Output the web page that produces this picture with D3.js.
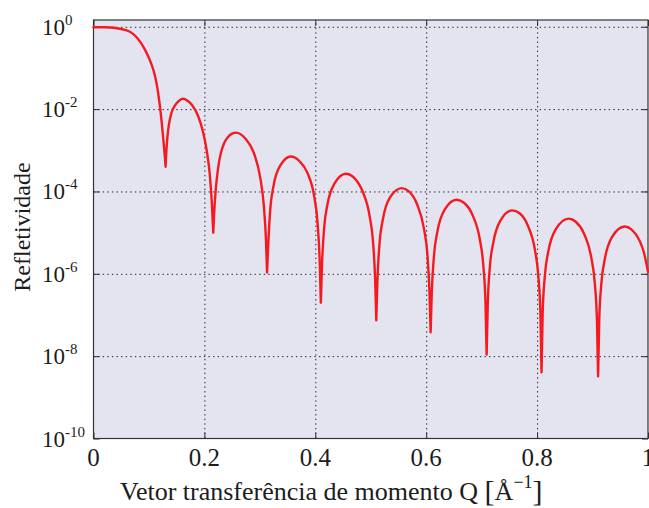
<!DOCTYPE html>
<html>
<head>
<meta charset="utf-8">
<script src="https://cdn.jsdelivr.net/npm/d3@7"></script>
<style>
  body { margin: 0; background: #ffffff; }
  svg { display: block; }
  text { font-family: "Liberation Serif", "Times New Roman", serif; fill: #1c1c1c; }
</style>
</head>
<body>
<svg id="chart" width="649" height="508"></svg>
<script>
// Reflectivity curve: momentum transfer Q (1/Å) and log10 of reflectivity
const qValues = [
  0, 0.02, 0.04, 0.05, 0.06, 0.07, 0.08, 0.093, 0.100, 0.105, 0.108, 0.111, 0.114, 0.117, 0.120, 0.123, 0.1265, 0.1288, 0.130,
  0.1315, 0.1335, 0.136, 0.139, 0.1425, 0.147, 0.153, 0.161, 0.169, 0.177, 0.189, 0.198, 0.204, 0.210, 0.2135, 0.216,
  0.2175, 0.2205, 0.2245, 0.2295, 0.2355, 0.243, 0.250, 0.257, 0.2742, 0.2888, 0.3014, 0.3072, 0.3111, 0.313,
  0.3149, 0.3188, 0.3246, 0.3373, 0.356, 0.3712, 0.3858, 0.3984, 0.4042, 0.4081, 0.410,
  0.412, 0.416, 0.422, 0.435, 0.455, 0.470, 0.485, 0.498, 0.504, 0.508, 0.510,
  0.512, 0.5159, 0.5218, 0.5345, 0.556, 0.5688, 0.5835, 0.5962, 0.6021, 0.606, 0.608,
  0.610, 0.6141, 0.6201, 0.6333, 0.655, 0.6686, 0.6838, 0.6969, 0.7029, 0.707, 0.709,
  0.711, 0.7149, 0.7209, 0.7338, 0.755, 0.7684, 0.7833, 0.7961, 0.802, 0.806, 0.808,
  0.810, 0.8141, 0.8202, 0.8335, 0.857, 0.8692, 0.8845, 0.8978, 0.9039, 0.908, 0.910,
  0.912, 0.916, 0.922, 0.935, 0.958, 0.970, 0.985, 0.993, 1.000
];
const log10R = [
  -0.01, -0.012, -0.03, -0.055, -0.09, -0.16, -0.29, -0.56, -0.76, -0.93, -1.05, -1.20, -1.40, -1.65, -1.95, -2.32, -2.82, -3.18, -3.40,
  -3.00, -2.65, -2.38, -2.17, -2.02, -1.91, -1.81, -1.75, -1.79, -1.89, -2.18, -2.58, -2.99, -3.63, -4.30, -5.00,
  -4.55, -3.95, -3.45, -3.08, -2.83, -2.67, -2.595, -2.57, -2.72, -3.05, -3.72, -4.35, -5.20, -5.97,
  -5.36, -4.43, -3.87, -3.36, -3.15, -3.26, -3.55, -4.15, -4.78, -5.75, -6.70,
  -5.81, -4.88, -4.31, -3.80, -3.57, -3.67, -3.99, -4.60, -5.21, -6.17, -7.13,
  -6.18, -5.25, -4.68, -4.15, -3.92, -4.00, -4.31, -4.92, -5.52, -6.48, -7.42,
  -6.48, -5.55, -4.98, -4.44, -4.20, -4.28, -4.58, -5.18, -5.78, -6.74, -7.96,
  -6.76, -5.82, -5.25, -4.71, -4.46, -4.53, -4.83, -5.42, -6.02, -6.98, -8.39,
  -6.97, -6.03, -5.46, -4.92, -4.66, -4.73, -5.02, -5.61, -6.21, -7.16, -8.49,
  -7.16, -6.22, -5.65, -5.11, -4.85, -4.92, -5.20, -5.50, -5.95
];
// Q positions of the interference minima (Kiessig fringes)
const dipQ = [0.130, 0.216, 0.313, 0.410, 0.510, 0.608, 0.709, 0.808, 0.910];

const xTicks = [0, 0.2, 0.4, 0.6, 0.8, 1];
const xTickLabels = ["0", "0.2", "0.4", "0.6", "0.8", "1"];
const yTickExponents = [0, -2, -4, -6, -8, -10];
const xTitle = "Vetor transferência de momento Q";
const yTitle = "Refletividade";

const svg = d3.select("#chart");
const plot = { left: 93.5, right: 648, top: 20, bottom: 438.5 };

const x = d3.scaleLinear().domain([0, 1]).range([plot.left, plot.right]);
const y = d3.scaleLog().domain([1e-10, 1.46]).range([plot.bottom, plot.top]);

// plot background
svg.append("rect")
  .attr("x", plot.left).attr("y", plot.top)
  .attr("width", plot.right - plot.left).attr("height", plot.bottom - plot.top)
  .attr("fill", "#e4e4f1");

const yGridValues = yTickExponents.map(e => Math.pow(10, e));

// dotted grid
const gridX = svg.append("g")
  .attr("transform", `translate(0,${plot.bottom})`)
  .call(d3.axisBottom(x).tickValues(xTicks.slice(1, -1))
    .tickSize(-(plot.bottom - plot.top)).tickFormat(""));
const gridY = svg.append("g")
  .attr("transform", `translate(${plot.left},0)`)
  .call(d3.axisLeft(y).tickValues(yGridValues.slice(0, -1))
    .tickSize(-(plot.right - plot.left)).tickFormat(""));
[gridX, gridY].forEach(g => {
  g.select(".domain").remove();
  g.selectAll("line").attr("stroke", "#222222").attr("stroke-width", 1)
    .attr("stroke-dasharray", "1.4,3.2");
});

// solid inward ticks on all four sides
const tickLen = 6;
const tickAxes = [
  svg.append("g").attr("transform", `translate(0,${plot.bottom})`)
    .call(d3.axisBottom(x).tickValues(xTicks).tickSize(-tickLen).tickFormat("")),
  svg.append("g").attr("transform", `translate(0,${plot.top})`)
    .call(d3.axisTop(x).tickValues(xTicks).tickSize(-tickLen).tickFormat("")),
  svg.append("g").attr("transform", `translate(${plot.left},0)`)
    .call(d3.axisLeft(y).tickValues(yGridValues).tickSize(-tickLen).tickFormat("")),
  svg.append("g").attr("transform", `translate(${plot.right},0)`)
    .call(d3.axisRight(y).tickValues(yGridValues).tickSize(-tickLen).tickFormat(""))
];
tickAxes.forEach(g => {
  g.select(".domain").remove();
  g.selectAll("line").attr("stroke", "#2a2a2a").attr("stroke-width", 1);
});

// frame
svg.append("rect")
  .attr("x", plot.left).attr("y", plot.top)
  .attr("width", plot.right - plot.left).attr("height", plot.bottom - plot.top)
  .attr("fill", "none").attr("stroke", "#333333").attr("stroke-width", 1.2);

// reflectivity curve, one sub-path per fringe so the minima stay sharp
const points = qValues.map((q, i) => ({ q, r: Math.pow(10, log10R[i]) }));
const segments = [];
let current = [];
points.forEach(p => {
  current.push(p);
  if (dipQ.includes(p.q)) {
    segments.push(current);
    current = [p];
  }
});
if (current.length > 1) segments.push(current);

const line = d3.line()
  .x(d => x(d.q))
  .y(d => y(d.r))
  .curve(d3.curveMonotoneX);

svg.append("path")
  .attr("d", segments.map(s => line(s)).join(""))
  .attr("fill", "none")
  .attr("stroke", "#f41a1f")
  .attr("stroke-width", 2.4)
  .attr("stroke-linecap", "round")
  .attr("stroke-linejoin", "round");

// x tick labels
svg.append("g").selectAll("text")
  .data(xTicks)
  .join("text")
  .attr("x", d => x(d))
  .attr("y", 466)
  .attr("text-anchor", "middle")
  .attr("font-size", 25)
  .text((d, i) => xTickLabels[i]);

// y tick labels: 10 with superscript exponent
const yLabels = svg.append("g").selectAll("text")
  .data(yTickExponents)
  .join("text")
  .attr("x", 42)
  .attr("y", d => y(Math.pow(10, d)) + 8)
  .attr("font-size", 23);
yLabels.append("tspan").text("10");
yLabels.append("tspan")
  .attr("font-size", 15)
  .attr("dy", -10)
  .text(d => d === 0 ? "0" : "-" + Math.abs(d));

// axis titles
const xt = svg.append("text")
  .attr("x", 120)
  .attr("y", 500)
  .attr("font-size", 26);
xt.append("tspan").text(xTitle + " ");
xt.append("tspan").attr("font-size", 30).attr("dy", 1).text("[");
xt.append("tspan").attr("font-size", 26).attr("dy", -1).text("Å");
xt.append("tspan").attr("font-size", 18).attr("dy", -12).text("−1");
xt.append("tspan").attr("font-size", 30).attr("dy", 13).text("]");

svg.append("text")
  .attr("transform", "translate(30,227) rotate(-90)")
  .attr("text-anchor", "middle")
  .attr("font-size", 24)
  .text(yTitle);
</script>
</body>
</html>
